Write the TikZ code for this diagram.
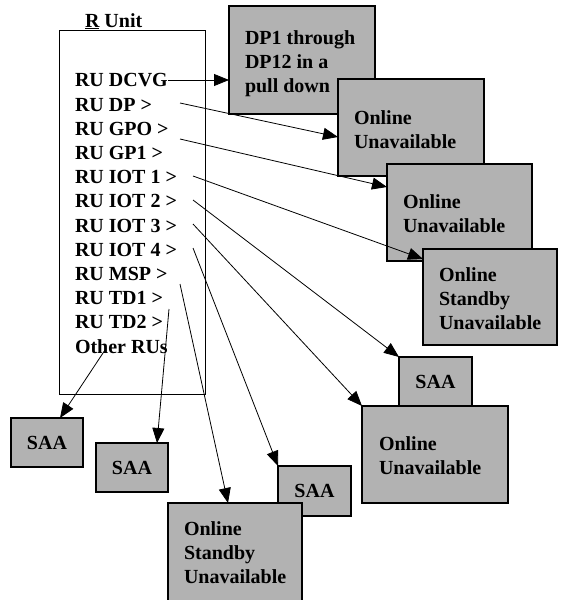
\documentclass[tikz,border=0pt]{standalone}
\usepackage{fontspec}
\setmainfont{Liberation Serif}
\usetikzlibrary{arrows.meta}
\definecolor{boxgray}{RGB}{178,178,178}
\tikzset{
  gbox/.style={draw=black, fill=boxgray, line width=1.1pt, inner sep=0pt, outer sep=0pt, anchor=north west,
    font=\bfseries\fontsize{20}{24}\selectfont},
  lbl/.style={anchor=base west, inner sep=0pt, outer sep=0pt, align=left,
    font=\bfseries\fontsize{20}{24}\selectfont},
  rulbl/.style={anchor=base west, inner sep=0pt, outer sep=0pt, align=left,
    font=\bfseries\fontsize{20}{24.2}\selectfont},
  unitbox/.style={draw=black, line width=1pt, inner sep=0pt, outer sep=0pt, anchor=north west},
  conn/.style={line width=0.8pt, -{Triangle[length=15pt,width=12pt]}},
}
\begin{document}
\begin{tikzpicture}[x=1pt,y=-1pt]
\useasboundingbox (0,0) rectangle (564,600);
\clip (0,0) rectangle (564,600);

% R unit (base anchors of multi-line nodes sit on the last line)
\node[unitbox, minimum width=146pt, minimum height=364pt] (ru) at (59,30) {};
\node[rulbl] (title) at (85,27) {\underline{R} Unit};
\node[rulbl] (rulist) at (75,353) {RU DCVG\\RU DP >\\RU GPO >\\RU GP1 >\\RU IOT 1 >\\RU IOT 2 >\\RU IOT 3 >\\RU IOT 4 >\\RU MSP >\\RU TD1 >\\RU TD2 >\\Other RUs};

% grey boxes
\node[gbox, minimum width=146pt, minimum height=108pt] (dp) at (229,6) {};
\node[gbox, minimum width=146pt, minimum height=97pt] (ou1) at (338,79) {};
\node[gbox, minimum width=145pt, minimum height=97pt] (ou2) at (387,164) {};
\node[gbox, minimum width=134pt, minimum height=96pt] (osu1) at (423,249) {};
\node[gbox, minimum width=73pt, minimum height=49pt] (saa1) at (399,357) {SAA};
\node[gbox, minimum width=146pt, minimum height=97pt] (ou3) at (362,406) {};
\node[gbox, minimum width=72pt, minimum height=49pt] (saa4) at (11,418) {SAA};
\node[gbox, minimum width=72pt, minimum height=49pt] (saa3) at (96,443) {SAA};
\node[gbox, minimum width=73pt, minimum height=50pt] (saa2) at (278,466) {SAA};
\node[gbox, minimum width=134pt, minimum height=110pt] (osu2) at (168,503) {};

% box texts
\node[lbl] (tdp) at (245,92.5) {DP1 through\\DP12 in a\\pull down};
\node[lbl] (tou1) at (354,148) {Online\\Unavailable};
\node[lbl] (tou2) at (403,232.5) {Online\\Unavailable};
\node[lbl] (tosu1) at (439,329.5) {Online\\Standby\\Unavailable};
\node[lbl] (tou3) at (379,474.5) {Online\\Unavailable};
\node[lbl] (tosu2) at (184,583.5) {Online\\Standby\\Unavailable};

% connector start points
\coordinate (sDCVG) at (168,80);
\coordinate (sDP) at (180,103);
\coordinate (sGPO) at (180,139);
\coordinate (sIOTa) at (193,176);
\coordinate (sIOTb) at (193,200);
\coordinate (sIOTc) at (193,224);
\coordinate (sIOTd) at (193,248);
\coordinate (sMSP) at (180,284);
\coordinate (sTD) at (169,309);
\coordinate (sOther) at (105,350);

% connectors
\draw[conn] (sDCVG) -- (dp.west |- sDCVG);
\draw[conn] (sDP) -- ([yshift=-58pt]ou1.north west);
\draw[conn] (sGPO) -- ([yshift=-23pt]ou2.north west);
\draw[conn] (sIOTa) -- ([yshift=-10pt]osu1.north west);
\draw[conn] (sIOTb) -- (saa1.north west);
\draw[conn] (sIOTc) -- (ou3.north west);
\draw[conn] (sIOTd) -- (saa2.north west);
\draw[conn] (sMSP) -- ([xshift=60pt]osu2.north west);
\draw[conn] (sTD) -- ([xshift=61pt]saa3.north west);
\draw[conn] (sOther) -- ([xshift=49pt]saa4.north west);
\end{tikzpicture}
\end{document}
